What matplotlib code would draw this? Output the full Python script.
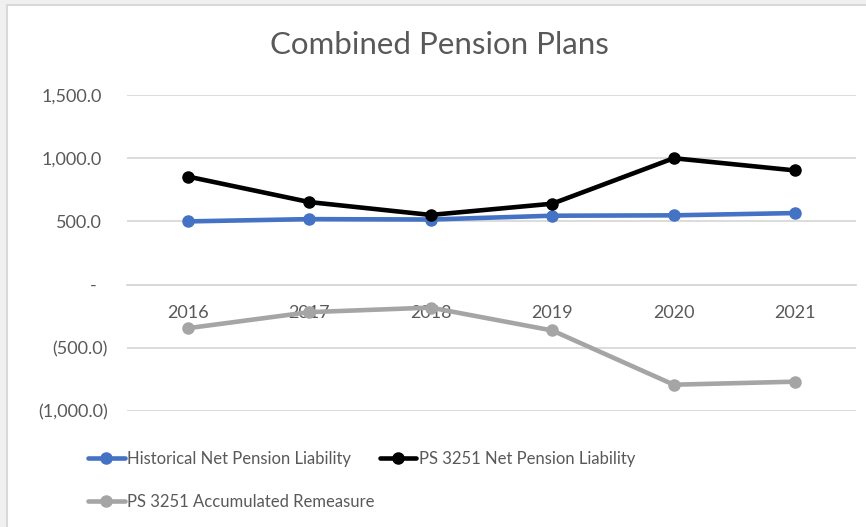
import matplotlib
matplotlib.use("Agg")
import matplotlib.pyplot as plt
from matplotlib.patches import Rectangle
from matplotlib.transforms import ScaledTranslation

# data
years = ["2016", "2017", "2018", "2019", "2020", "2021"]
historical = [500, 518, 515, 545, 548, 566]
ps3251_net = [855, 653, 551, 640, 1000, 903]
ps3251_remeasure = [-345, -218, -182, -363, -792, -768]

yticks = [-1000, -500, 0, 500, 1000, 1500]
ytick_labels = ["(1,000.0)", "(500.0)", "-", "500.0", "1,000.0", "1,500.0"]

text_color = "#595959"
grid_color = "#d9d9d9"
plt.rcParams["font.family"] = ["Lato", "DejaVu Sans"]

fig = plt.figure(figsize=(8.66, 5.27), dpi=100, facecolor="#f0f0f0")
# white chart area with light border
fig.patches.append(Rectangle((7 / 866, -0.01), 1.0, 1 - 5 / 527 + 0.01,
                             transform=fig.transFigure, facecolor="white",
                             edgecolor=grid_color, linewidth=1.5, zorder=-5))

ax = fig.add_axes([127 / 866, 1 - 411 / 527, (856 - 127) / 866, (411 - 95) / 527])
ax.set_facecolor("none")

x = range(len(years))
ax.plot(x, historical, color="#4472c4", lw=3.3, marker="o", ms=8,
        label="Historical Net Pension Liability", solid_capstyle="round")
ax.plot(x, ps3251_net, color="black", lw=3.3, marker="o", ms=8,
        label="PS 3251 Net Pension Liability", solid_capstyle="round")
ax.plot(x, ps3251_remeasure, color="#a5a5a5", lw=3.3, marker="o", ms=8,
        label="PS 3251 Accumulated Remeasure", solid_capstyle="round")

ax.set_xlim(-0.5, len(years) - 0.5)
ax.set_ylim(-1000, 1500)
ax.set_yticks(yticks)
ax.set_yticklabels(ytick_labels)
ax.set_xticks(list(x))
ax.set_xticklabels(years)

ax.grid(axis="y", color=grid_color, lw=1.3)
ax.set_axisbelow(True)
for s in ["top", "right", "left"]:
    ax.spines[s].set_visible(False)
ax.spines["bottom"].set_position(("data", 0))
ax.spines["bottom"].set_color(grid_color)
ax.spines["bottom"].set_linewidth(1.3)

ax.tick_params(axis="both", length=0, colors=text_color, labelsize=13)
ax.tick_params(axis="y", pad=14)
ax.tick_params(axis="x", pad=15)

# Excel accounting format: positives leave room for a ")"
for lab in ax.get_yticklabels():
    t = lab.get_text()
    if t == "-":
        lab.set_transform(lab.get_transform() + ScaledTranslation(-11 / 100, 0, fig.dpi_scale_trans))
    elif not t.startswith("("):
        lab.set_transform(lab.get_transform() + ScaledTranslation(-6 / 100, 0, fig.dpi_scale_trans))

fig.text(0.508, 1 - 45 / 527, "Combined Pension Plans", ha="center", va="center",
         fontsize=22.5, color=text_color)

h, l = ax.get_legend_handles_labels()
order = [0, 2, 1]
leg = fig.legend([h[i] for i in order], [l[i] for i in order], ncol=2,
                 loc="upper left", bbox_to_anchor=(88 / 866, 1 - 451 / 527),
                 frameon=False, fontsize=12, handlelength=2.2, handletextpad=0.15,
                 columnspacing=0.3, labelspacing=1.6, borderaxespad=0, borderpad=0)
for t in leg.get_texts():
    t.set_color(text_color)

fig.savefig("out.png", dpi=100, facecolor=fig.get_facecolor())
